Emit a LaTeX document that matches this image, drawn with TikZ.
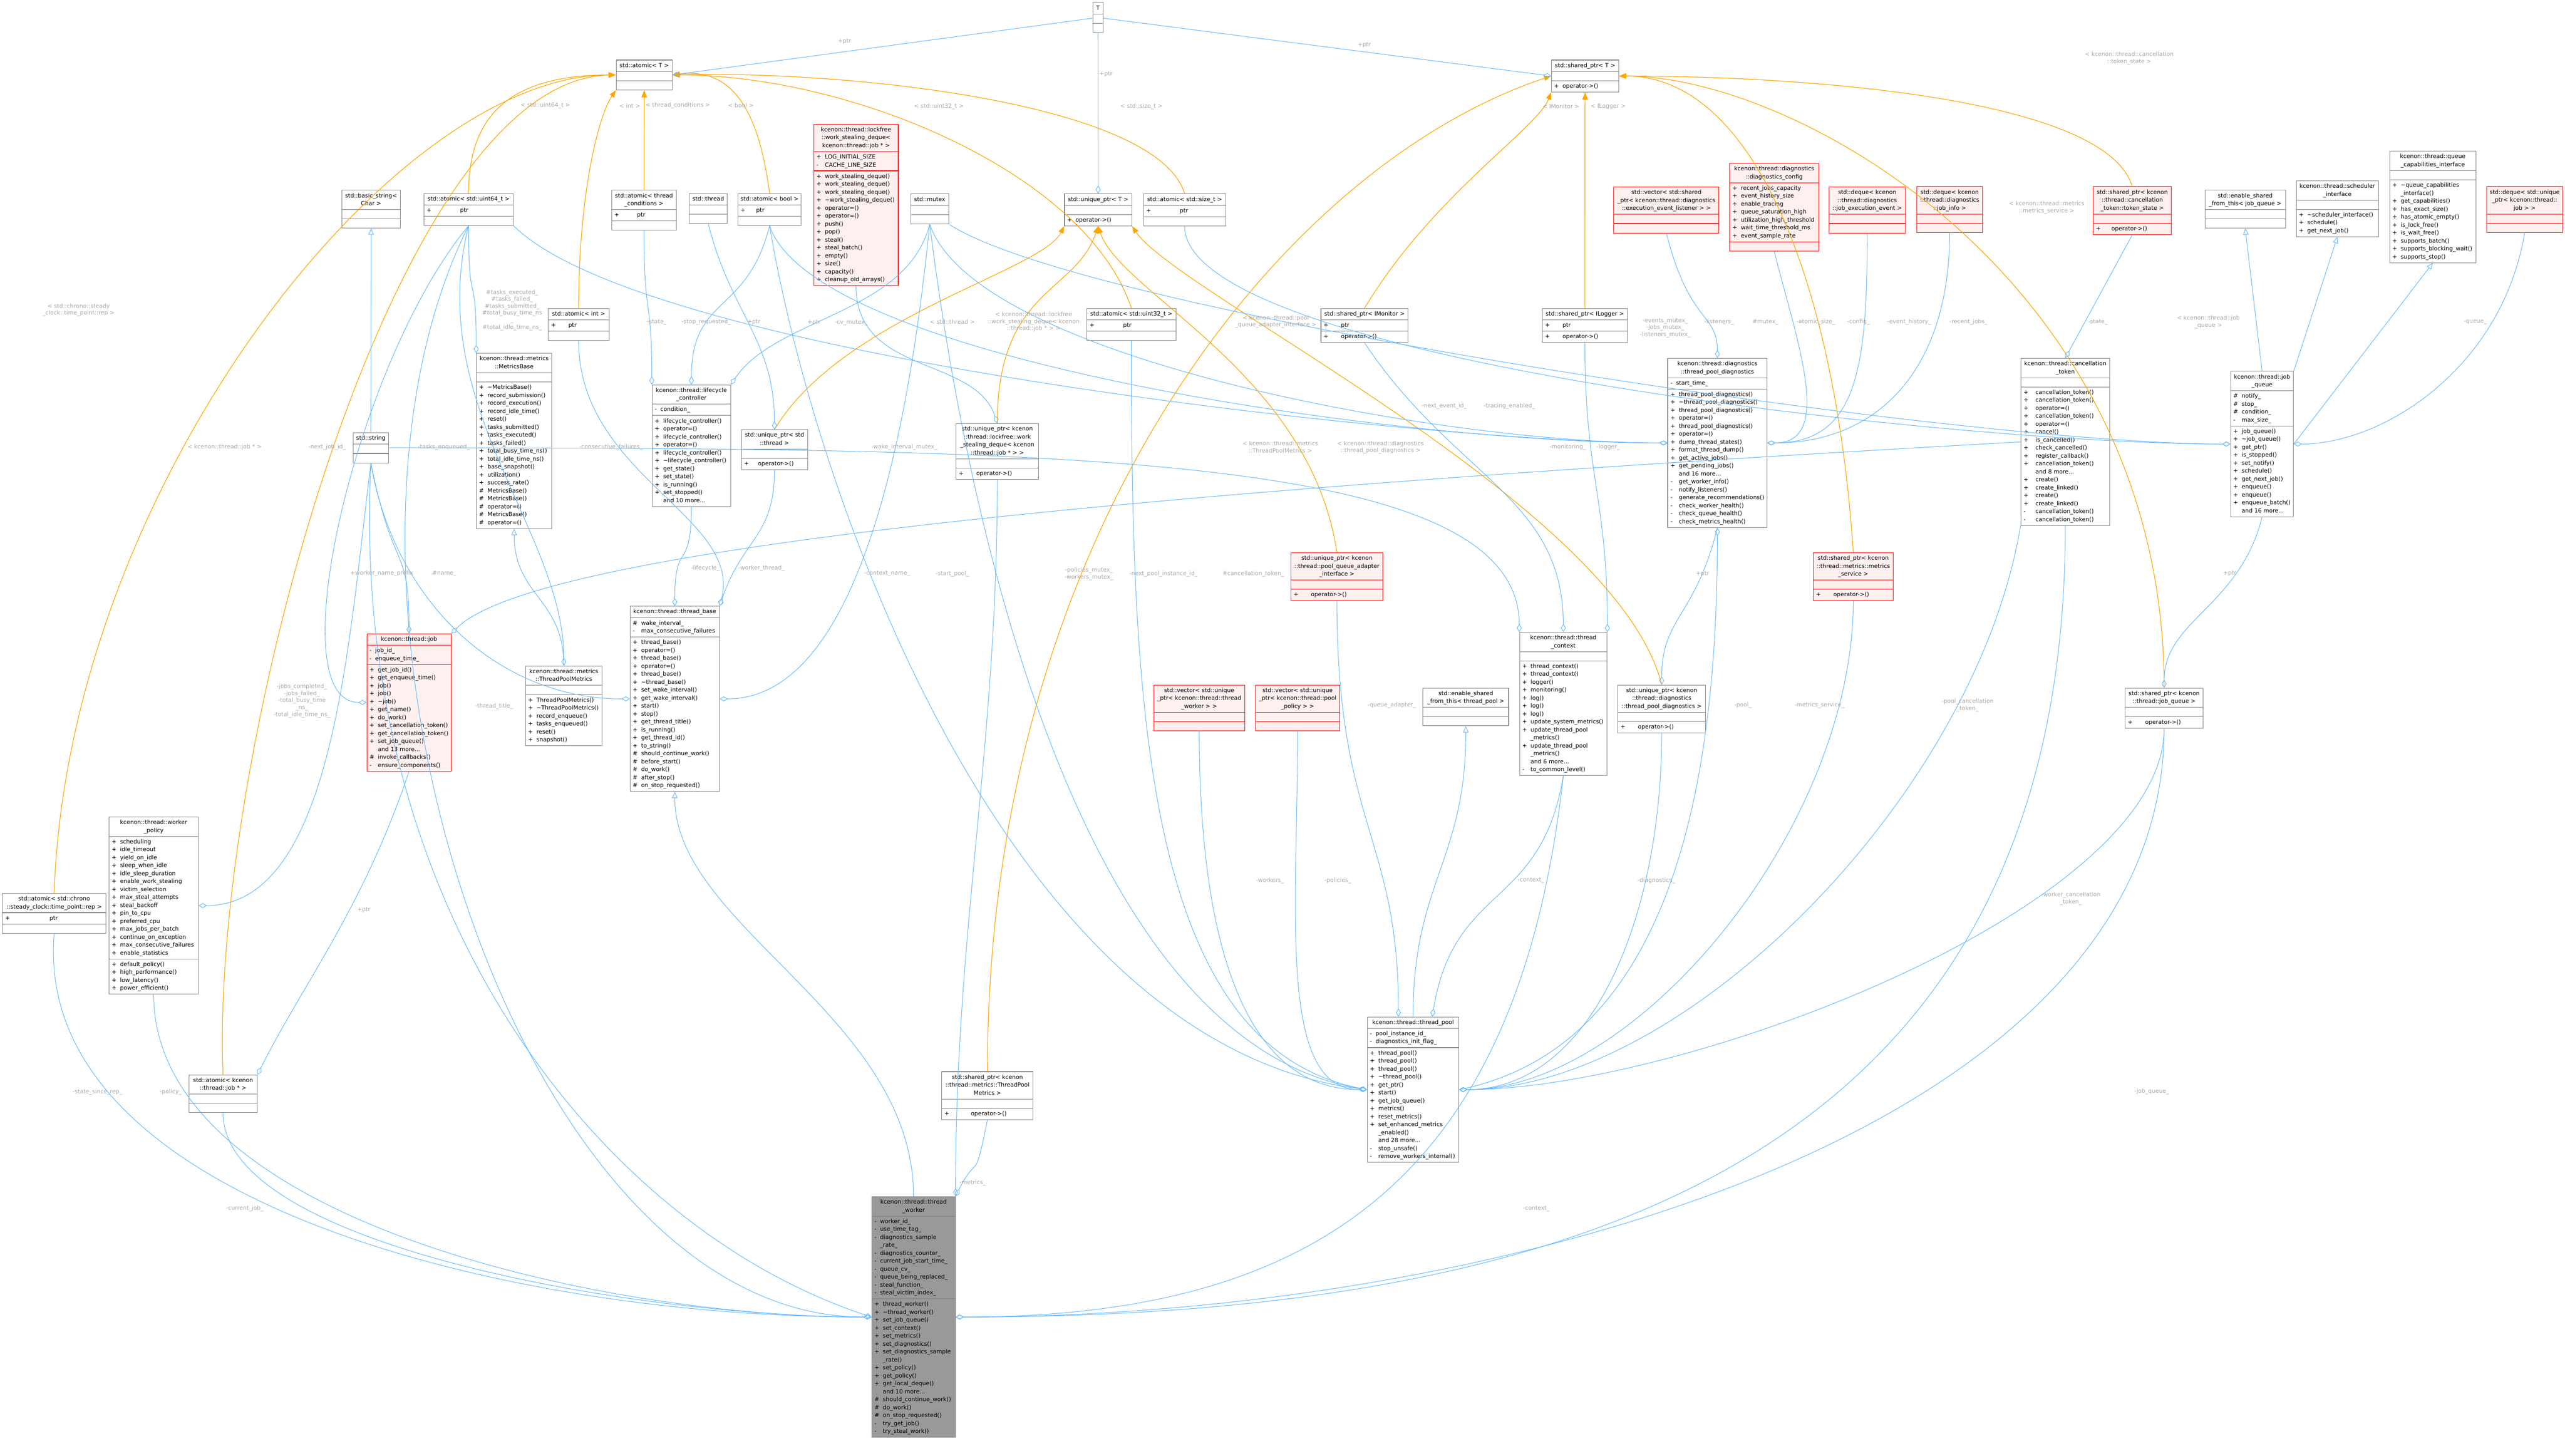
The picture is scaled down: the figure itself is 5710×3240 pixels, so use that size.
\documentclass[tikz,border=0pt]{standalone}
\usepackage{fontspec}
\setmainfont{DejaVu Sans}
\usetikzlibrary{shapes.multipart,arrows.meta}
\definecolor{eblue}{HTML}{63B8FF}
\definecolor{eorange}{HTML}{FFA500}
\definecolor{lblgray}{HTML}{A8A8A8}
\definecolor{nodegray}{HTML}{808080}
\definecolor{redfill}{HTML}{FFF0F0}
\definecolor{curfill}{HTML}{999999}
\newcommand\fnt{\fontsize{6.4}{8.85}\selectfont}
\newcommand\lfnt{\fontsize{6.4}{7.8}\selectfont}
\newcommand\cttl[1]{\begin{tabular}{@{}c@{}}#1\end{tabular}}
\newcommand\cmem[1]{\begin{tabular}{@{}l@{\hspace{4pt}}l@{}}#1\end{tabular}}
\newcommand\tl{\textasciitilde}
\tikzset{
 cls/.style={draw=nodegray, fill=white, line width=0.6pt, rectangle split, rectangle split parts=3,
   rectangle split part align={center,left,left}, rectangle split empty part height=6.5pt,
   inner xsep=3pt, inner ysep=1.6pt, anchor=north west, font=\fnt, minimum width=#1},
 cls/.default=20pt,
 rcls/.style={cls=#1, draw=red, fill=redfill},
 rcls/.default=20pt,
 ccls/.style={cls=#1, fill=curfill},
 agg/.style={draw=eblue, line width=0.6pt, distance=90pt, -{Diamond[open,length=9pt,width=5.5pt]}},
 inh/.style={draw=eblue, line width=0.6pt, distance=60pt, -{Triangle[open,length=7pt,width=6pt]}},
 tmpl/.style={draw=eorange, line width=0.7pt, distance=110pt, -{Triangle[length=8pt,width=6pt]}},
 lbl/.style={font=\lfnt, text=lblgray, align=center, inner sep=0pt},
}
\begin{document}
\begin{tikzpicture}[x=0.5pt,y=-0.5pt]
\useasboundingbox (0,0) rectangle (5710,3240);
% ---------- nodes ----------
\node[cls=11.5pt] (T) at (2432,5) {\cttl{T}\nodepart{two}\nodepart{three}};
\node[cls=62.5pt] (atT) at (1371,133) {\cttl{std::atomic< T >}\nodepart{two}\nodepart{three}};
\node[cls=75pt] (spT) at (3453,133) {\cttl{std::shared\_ptr< T >}\nodepart{two}\nodepart{three}\cmem{+ & operator->()}};
\node[cls=65.5pt] (basicstr) at (760,423) {\cttl{std::basic\_string<\\ Char >}\nodepart{two}\nodepart{three}};
\node[cls=99.5pt] (a64) at (943,430) {\cttl{std::atomic< std::uint64\_t >}\nodepart{two}\cmem{+ & \hspace{28pt}ptr}\nodepart{three}};
\node[cls=72pt] (acond) at (1361,423) {\cttl{std::atomic< thread\\\_conditions >}\nodepart{two}\cmem{+ & \hspace{16pt}ptr}\nodepart{three}};
\node[cls=42pt] (thr) at (1534,430) {\cttl{std::thread}\nodepart{two}\nodepart{three}};
\node[cls=52pt] (abool) at (1642,430) {\cttl{std::atomic< bool >}\nodepart{two}\cmem{+ & \hspace{8pt}ptr}\nodepart{three}};
\node[rcls=94pt] (wsd) at (1811,276) {\cttl{kcenon::thread::lockfree\\::work\_stealing\_deque<\\ kcenon::thread::job * >}\nodepart{two}\cmem{+ & LOG\_INITIAL\_SIZE\\- & CACHE\_LINE\_SIZE}\nodepart{three}\cmem{+ & work\_stealing\_deque()\\+ & work\_stealing\_deque()\\+ & work\_stealing\_deque()\\+ & \tl work\_stealing\_deque()\\+ & operator=()\\+ & operator=()\\+ & push()\\+ & pop()\\+ & steal()\\+ & steal\_batch()\\+ & empty()\\+ & size()\\+ & capacity()\\+ & cleanup\_old\_arrays()}};
\node[cls=42pt] (mutex) at (2027,431) {\cttl{std::mutex}\nodepart{two}\nodepart{three}};
\node[cls=75pt] (uT) at (2369,431) {\cttl{std::unique\_ptr< T >}\nodepart{two}\nodepart{three}\cmem{+ & operator->()}};
\node[cls=91.5pt] (asize) at (2545,431) {\cttl{std::atomic< std::size\_t >}\nodepart{two}\cmem{+ & \hspace{28pt}ptr}\nodepart{three}};
\node[cls=67.5pt] (aint) at (1220,686) {\cttl{std::atomic< int >}\nodepart{two}\cmem{+ & \hspace{10pt}ptr}\nodepart{three}};
\node[cls=99pt] (a32) at (2419,686) {\cttl{std::atomic< std::uint32\_t >}\nodepart{two}\cmem{+ & \hspace{28pt}ptr}\nodepart{three}};
\node[cls=97pt] (spMon) at (2940,686) {\cttl{std::shared\_ptr< IMonitor >}\nodepart{two}\cmem{+ & \hspace{10pt}ptr}\nodepart{three}\cmem{+ & \hspace{10pt}operator->()}};
\node[cls=94.5pt] (spLog) at (3433,686) {\cttl{std::shared\_ptr< ILogger >}\nodepart{two}\cmem{+ & \hspace{10pt}ptr}\nodepart{three}\cmem{+ & \hspace{10pt}operator->()}};
\node[rcls=117pt] (vecL) at (3592,416) {\cttl{std::vector< std::shared\\\_ptr< kcenon::thread::diagnostics\\::execution\_event\_listener > >}\nodepart{two}\nodepart{three}};
\node[rcls=99pt] (cfg) at (3850,363) {\cttl{kcenon::thread::diagnostics\\::diagnostics\_config}\nodepart{two}\cmem{+ & recent\_jobs\_capacity\\+ & event\_history\_size\\+ & enable\_tracing\\+ & queue\_saturation\_high\\+ & utilization\_high\_threshold\\+ & wait\_time\_threshold\_ms\\+ & event\_sample\_rate}\nodepart{three}};
\node[rcls=85pt] (dqEv) at (4071,416) {\cttl{std::deque< kcenon\\::thread::diagnostics\\::job\_execution\_event >}\nodepart{two}\nodepart{three}};
\node[rcls=73.5pt] (dqJI) at (4266,415) {\cttl{std::deque< kcenon\\::thread::diagnostics\\::job\_info >}\nodepart{two}\nodepart{three}};
\node[rcls=87pt] (spTS) at (4659,415) {\cttl{std::shared\_ptr< kcenon\\::thread::cancellation\\\_token::token\_state >}\nodepart{two}\nodepart{three}\cmem{+ & \hspace{8pt}operator->()}};
\node[cls=89.5pt] (esfJQ) at (4908,423) {\cttl{std::enable\_shared\\\_from\_this< job\_queue >}\nodepart{two}\nodepart{three}};
\node[cls=91.5pt] (sched) at (5111,402) {\cttl{kcenon::thread::scheduler\\\_interface}\nodepart{two}\nodepart{three}\cmem{+ & \tl scheduler\_interface()\\+ & schedule()\\+ & get\_next\_job()}};
\node[cls=96pt] (qcap) at (5319,336) {\cttl{kcenon::thread::queue\\\_capabilities\_interface}\nodepart{two}\nodepart{three}\cmem{+ & \tl queue\_capabilities\\ & \_interface()\\+ & get\_capabilities()\\+ & has\_exact\_size()\\+ & has\_atomic\_empty()\\+ & is\_lock\_free()\\+ & is\_wait\_free()\\+ & supports\_batch()\\+ & supports\_blocking\_wait()\\+ & supports\_stop()}};
\node[rcls=84.5pt] (dqUJ) at (5535,415) {\cttl{std::deque< std::unique\\\_ptr< kcenon::thread::\\job > >}\nodepart{two}\nodepart{three}};
\node[cls=84pt] (mb) at (1060,786) {\cttl{kcenon::thread::metrics\\::MetricsBase}\nodepart{two}\nodepart{three}\cmem{+ & \tl MetricsBase()\\+ & record\_submission()\\+ & record\_execution()\\+ & record\_idle\_time()\\+ & reset()\\+ & tasks\_submitted()\\+ & tasks\_executed()\\+ & tasks\_failed()\\+ & total\_busy\_time\_ns()\\+ & total\_idle\_time\_ns()\\+ & base\_snapshot()\\+ & utilization()\\+ & success\_rate()\\\# & MetricsBase()\\\# & MetricsBase()\\\# & operator=()\\\# & MetricsBase()\\\# & operator=()}};
\node[cls=87.5pt] (lc) at (1451,856) {\cttl{kcenon::thread::lifecycle\\\_controller}\nodepart{two}\cmem{- & condition\_}\nodepart{three}\cmem{+ & lifecycle\_controller()\\+ & operator=()\\+ & lifecycle\_controller()\\+ & operator=()\\+ & lifecycle\_controller()\\+ & \tl lifecycle\_controller()\\+ & get\_state()\\+ & set\_state()\\+ & is\_running()\\+ & set\_stopped()\\ & and 10 more...}};
\node[cls=39pt] (str) at (786,963) {\cttl{std::string}\nodepart{two}\nodepart{three}};
\node[cls=73.5pt] (uThr) at (1650,956) {\cttl{std::unique\_ptr< std\\::thread >}\nodepart{two}\nodepart{three}\cmem{+ & \hspace{6pt}operator->()}};
\node[cls=91.5pt] (uWSD) at (2128,942) {\cttl{std::unique\_ptr< kcenon\\::thread::lockfree::work\\\_stealing\_deque< kcenon\\::thread::job * > >}\nodepart{two}\nodepart{three}\cmem{+ & \hspace{10pt}operator->()}};
\node[cls=110.5pt] (tpd) at (3712,797) {\cttl{kcenon::thread::diagnostics\\::thread\_pool\_diagnostics}\nodepart{two}\cmem{- & start\_time\_}\nodepart{three}\cmem{+ & thread\_pool\_diagnostics()\\+ & \tl thread\_pool\_diagnostics()\\+ & thread\_pool\_diagnostics()\\+ & operator=()\\+ & thread\_pool\_diagnostics()\\+ & operator=()\\+ & dump\_thread\_states()\\+ & format\_thread\_dump()\\+ & get\_active\_jobs()\\+ & get\_pending\_jobs()\\ & and 16 more...\\- & get\_worker\_info()\\- & notify\_listeners()\\- & generate\_recommendations()\\- & check\_worker\_health()\\- & check\_queue\_health()\\- & check\_metrics\_health()}};
\node[cls=99pt, rectangle split empty part height=1pt] (ct) at (4498,797) {\cttl{kcenon::thread::cancellation\\\_token}\nodepart{two}\nodepart{three}\cmem{+ & \hspace{4pt}cancellation\_token()\\+ & \hspace{4pt}cancellation\_token()\\+ & \hspace{4pt}operator=()\\+ & \hspace{4pt}cancellation\_token()\\+ & \hspace{4pt}operator=()\\+ & \hspace{4pt}cancel()\\+ & \hspace{4pt}is\_cancelled()\\+ & \hspace{4pt}check\_cancelled()\\+ & \hspace{4pt}register\_callback()\\+ & \hspace{4pt}cancellation\_token()\\ & \hspace{4pt}and 8 more...\\+ & \hspace{4pt}create()\\+ & \hspace{4pt}create\_linked()\\+ & \hspace{4pt}create()\\+ & \hspace{4pt}create\_linked()\\- & \hspace{4pt}cancellation\_token()\\- & \hspace{4pt}cancellation\_token()}};
\node[cls=70pt] (jq) at (4965,826) {\cttl{kcenon::thread::job\\\_queue}\nodepart{two}\cmem{\# & notify\_\\\# & stop\_\\\# & condition\_\\- & max\_size\_}\nodepart{three}\cmem{+ & job\_queue()\\+ & \tl job\_queue()\\+ & get\_ptr()\\+ & is\_stopped()\\+ & set\_notify()\\+ & schedule()\\+ & get\_next\_job()\\+ & enqueue()\\+ & enqueue()\\+ & enqueue\_batch()\\ & and 16 more...}};
\node[rcls=102.5pt] (uQA) at (2873,1230) {\cttl{std::unique\_ptr< kcenon\\::thread::pool\_queue\_adapter\\\_interface >}\nodepart{two}\nodepart{three}\cmem{+ & \hspace{10pt}operator->()}};
\node[rcls=89pt] (spMS) at (4036,1230) {\cttl{std::shared\_ptr< kcenon\\::thread::metrics::metrics\\\_service >}\nodepart{two}\nodepart{three}\cmem{+ & \hspace{10pt}operator->()}};
\node[cls=99.5pt] (tb) at (1402,1349) {\cttl{kcenon::thread::thread\_base}\nodepart{two}\cmem{\# & wake\_interval\_\\- & max\_consecutive\_failures}\nodepart{three}\cmem{+ & thread\_base()\\+ & operator=()\\+ & thread\_base()\\+ & operator=()\\+ & thread\_base()\\+ & \tl thread\_base()\\+ & set\_wake\_interval()\\+ & get\_wake\_interval()\\+ & start()\\+ & stop()\\+ & get\_thread\_title()\\+ & is\_running()\\+ & get\_thread\_id()\\+ & to\_string()\\\# & should\_continue\_work()\\\# & before\_start()\\\# & do\_work()\\\# & after\_stop()\\\# & on\_stop\_requested()}};
\node[rcls=92pt] (job) at (816,1410) {\cttl{kcenon::thread::job}\nodepart{two}\cmem{- & job\_id\_\\- & enqueue\_time\_}\nodepart{three}\cmem{+ & get\_job\_id()\\+ & get\_enqueue\_time()\\+ & job()\\+ & job()\\+ & \tl job()\\+ & get\_name()\\+ & do\_work()\\+ & set\_cancellation\_token()\\+ & get\_cancellation\_token()\\+ & set\_job\_queue()\\ & and 13 more...\\\# & invoke\_callbacks()\\- & ensure\_components()}};
\node[cls=85.5pt] (tpm) at (1169,1482) {\cttl{kcenon::thread::metrics\\::ThreadPoolMetrics}\nodepart{two}\nodepart{three}\cmem{+ & ThreadPoolMetrics()\\+ & \tl ThreadPoolMetrics()\\+ & record\_enqueue()\\+ & tasks\_enqueued()\\+ & reset()\\+ & snapshot()}};
\node[cls=97.5pt] (ctx) at (3382,1407) {\cttl{kcenon::thread::thread\\\_context}\nodepart{two}\nodepart{three}\cmem{+ & thread\_context()\\+ & thread\_context()\\+ & logger()\\+ & monitoring()\\+ & log()\\+ & log()\\+ & log()\\+ & update\_system\_metrics()\\+ & update\_thread\_pool\\ & \_metrics()\\+ & update\_thread\_pool\\ & \_metrics()\\ & and 6 more...\\- & to\_common\_level()}};
\node[rcls=101pt] (vecW) at (2568,1524) {\cttl{std::vector< std::unique\\\_ptr< kcenon::thread::thread\\\_worker > >}\nodepart{two}\nodepart{three}};
\node[rcls=94pt] (vecP) at (2794,1524) {\cttl{std::vector< std::unique\\\_ptr< kcenon::thread::pool\\\_policy > >}\nodepart{two}\nodepart{three}};
\node[cls=95.5pt] (esfTP) at (3167,1531) {\cttl{std::enable\_shared\\\_from\_this< thread\_pool >}\nodepart{two}\nodepart{three}};
\node[cls=97.5pt] (uTPD) at (3601,1524) {\cttl{std::unique\_ptr< kcenon\\::thread::diagnostics\\::thread\_pool\_diagnostics >}\nodepart{two}\nodepart{three}\cmem{+ & \hspace{10pt}operator->()}};
\node[cls=87pt] (spJQ) at (4730,1531) {\cttl{std::shared\_ptr< kcenon\\::thread::job\_queue >}\nodepart{two}\nodepart{three}\cmem{+ & \hspace{10pt}operator->()}};
\node[cls=99.5pt] (policy) at (242,1818) {\cttl{kcenon::thread::worker\\\_policy}\nodepart{two}\cmem{+ & scheduling\\+ & idle\_timeout\\+ & yield\_on\_idle\\+ & sleep\_when\_idle\\+ & idle\_sleep\_duration\\+ & enable\_work\_stealing\\+ & victim\_selection\\+ & max\_steal\_attempts\\+ & steal\_backoff\\+ & pin\_to\_cpu\\+ & preferred\_cpu\\+ & max\_jobs\_per\_batch\\+ & continue\_on\_exception\\+ & max\_consecutive\_failures\\+ & enable\_statistics}\nodepart{three}\cmem{+ & default\_policy()\\+ & high\_performance()\\+ & low\_latency()\\+ & power\_efficient()}};
\node[cls=115pt] (achr) at (5,1988) {\cttl{std::atomic< std::chrono\\::steady\_clock::time\_point::rep >}\nodepart{two}\cmem{+ & \hspace{40pt}ptr}\nodepart{three}};
\node[cls=76pt] (ajob) at (420,2392) {\cttl{std::atomic< kcenon\\::thread::job * >}\nodepart{two}\nodepart{three}};
\node[cls=101.5pt] (spTPM) at (2096,2385) {\cttl{std::shared\_ptr< kcenon\\::thread::metrics::ThreadPool\\Metrics >}\nodepart{two}\nodepart{three}\cmem{+ & \hspace{20pt}operator->()}};
\node[cls=102pt] (tp) at (3043,2263) {\cttl{kcenon::thread::thread\_pool}\nodepart{two}\cmem{- & pool\_instance\_id\_\\- & diagnostics\_init\_flag\_}\nodepart{three}\cmem{+ & thread\_pool()\\+ & thread\_pool()\\+ & thread\_pool()\\+ & \tl thread\_pool()\\+ & get\_ptr()\\+ & start()\\+ & get\_job\_queue()\\+ & metrics()\\+ & reset\_metrics()\\+ & set\_enhanced\_metrics\\ & \_enabled()\\ & and 28 more...\\- & stop\_unsafe()\\- & remove\_workers\_internal()}};
\node[ccls=93pt] (tw) at (1940,2663) {\cttl{kcenon::thread::thread\\\_worker}\nodepart{two}\cmem{- & worker\_id\_\\- & use\_time\_tag\_\\- & diagnostics\_sample\\ & \_rate\_\\- & diagnostics\_counter\_\\- & current\_job\_start\_time\_\\- & queue\_cv\_\\- & queue\_being\_replaced\_\\- & steal\_function\_\\- & steal\_victim\_index\_}\nodepart{three}\cmem{+ & thread\_worker()\\+ & \tl thread\_worker()\\+ & set\_job\_queue()\\+ & set\_context()\\+ & set\_metrics()\\+ & set\_diagnostics()\\+ & set\_diagnostics\_sample\\ & \_rate()\\+ & set\_policy()\\+ & get\_policy()\\+ & get\_local\_deque()\\ & and 10 more...\\\# & should\_continue\_work()\\\# & do\_work()\\\# & on\_stop\_requested()\\- & try\_get\_job()\\- & try\_steal\_work()}};
% ---------- template instantiation ----------
\draw[tmpl] (a64.north) .. controls +(0,-160) and +(-250,0) .. (atT.west);
\draw[tmpl] (aint.north) .. controls +(0,-250) and +(-40,60) .. (atT.south west);
\draw[tmpl] (acond.north) -- (atT.south);
\draw[tmpl] (abool.north) .. controls +(-20,-150) and +(150,-20) .. (atT.east);
\draw[tmpl] (achr.north) .. controls +(30,-900) and +(-500,0) .. (atT.west);
\draw[tmpl] (ajob.north) .. controls +(-30,-700) and +(-500,10) .. (atT.west);
\draw[tmpl] (asize.north) .. controls +(-60,-200) and +(400,-10) .. (atT.east);
\draw[tmpl] (a32.north) .. controls +(-100,-300) and +(400,0) .. (atT.east);
\draw[tmpl] (spMon.north) .. controls +(150,-250) and +(-30,80) .. (spT.south west);
\draw[tmpl] (spLog.north) -- (spT.south);
\draw[tmpl] (spTPM.north) .. controls +(0,-1200) and +(-600,200) .. (spT.west);
\draw[tmpl] (spMS.north) .. controls +(-40,-600) and +(300,0) .. (spT.east);
\draw[tmpl] (spTS.north) .. controls +(-60,-200) and +(400,0) .. (spT.east);
\draw[tmpl] (spJQ.north) .. controls +(0,-900) and +(400,0) .. (spT.east);
\draw[tmpl] (uThr.north) .. controls +(150,-250) and +(-50,100) .. (uT.south west);
\draw[tmpl] (uWSD.north) .. controls +(0,-300) and +(-50,150) .. (uT.south);
\draw[tmpl] (uQA.north) .. controls +(-60,-400) and +(50,150) .. (uT.south);
\draw[tmpl] (uTPD.north) .. controls +(-100,-400) and +(100,150) .. (uT.south east);
% ---------- T pointers ----------
\draw[agg] (T) -- (atT.east);
\draw[agg] (T) -- (spT.west);
\draw[agg] (T) -- (uT.north);
% ---------- inheritance ----------
\draw[inh] (str.north) -- (basicstr.south);
\draw[inh] (tpm.north) .. controls +(0,-150) and +(0,150) .. (mb.south);
\draw[inh] (tw.north) .. controls +(0,-400) and +(0,300) .. (tb.south);
\draw[inh] (tp.north) .. controls +(0,-300) and +(0,300) .. (esfTP.south);
\draw[inh] (jq.north) -- (esfJQ.south);
\draw[inh] (jq.north east) -- (sched.south);
\draw[inh] (jq.east) -- (qcap.south);
% ---------- aggregation ----------
\draw[agg] (a64.south) .. controls +(0,200) and +(0,-200) .. (mb.north west);
\draw[agg] (a64.south) .. controls +(-100,400) and +(0,-300) .. (tpm.north);
\draw[agg] (a64.south) .. controls +(-250,300) and +(-200,0) .. (job.west);
\draw[agg] (a64.south) .. controls +(-400,800) and +(-800,0) .. (tw.west);
\draw[agg] (a64.south east) .. controls +(300,300) and +(-500,0) .. (tpd.west);
\draw[agg] (aint.south) .. controls +(0,300) and +(50,-200) .. (tb.north east);
\draw[agg] (acond.south) .. controls +(0,200) and +(0,-200) .. (lc.north west);
\draw[agg] (abool.south) .. controls +(-50,200) and +(0,-200) .. (lc.north);
\draw[agg] (abool.south) .. controls +(100,300) and +(-600,0) .. (tpd.west);
\draw[agg] (abool.south) .. controls +(100,600) and +(-800,-100) .. (tp.west);
\draw[agg] (thr.south) .. controls +(50,200) and +(0,-200) .. (uThr.north);
\draw[agg] (mutex.south) .. controls +(-50,200) and +(100,-150) .. (lc.north east);
\draw[agg] (mutex.south) .. controls +(-50,500) and +(300,0) .. (tb.east);
\draw[agg] (mutex.south) .. controls +(100,300) and +(-500,0) .. (tpd.west);
\draw[agg] (mutex.south) .. controls +(100,800) and +(-600,-100) .. (tp.west);
\draw[agg] (mutex.south east) .. controls +(300,200) and +(-600,0) .. (jq.west);
\draw[agg] (asize.south) .. controls +(0,300) and +(-600,0) .. (jq.west);
\draw[agg] (wsd.south) .. controls +(0,200) and +(-50,-150) .. (uWSD.north);
\draw[agg] (uWSD.south) .. controls +(0,600) and +(0,-600) .. (tw.north east);
\draw[agg] (uThr.south) .. controls +(0,150) and +(50,-150) .. (tb.north east);
\draw[agg] (lc.south) .. controls +(0,150) and +(0,-150) .. (tb.north);
\draw[agg] (str.south) .. controls +(50,300) and +(-300,0) .. (tb.west);
\draw[agg] (str.south) .. controls +(50,250) and +(0,-200) .. (job.north);
\draw[agg] (str.south) .. controls +(-50,400) and +(300,0) .. (policy.east);
\draw[agg] (str.south) .. controls +(-50,1000) and +(-600,-200) .. (tw.west);
\draw[agg] (str.east) .. controls +(1500,0) and +(0,-400) .. (ctx.north west);
\draw[agg] (a32.south) .. controls +(0,800) and +(-500,-100) .. (tp.west);
\draw[agg] (spMon.south) .. controls +(200,300) and +(0,-300) .. (ctx.north);
\draw[agg] (spLog.south) .. controls +(0,300) and +(0,-300) .. (ctx.north east);
\draw[agg] (vecL.south) .. controls +(50,200) and +(0,-100) .. (tpd.north);
\draw[agg] (cfg.south) .. controls +(50,200) and +(150,0) .. (tpd.east);
\draw[agg] (dqEv.south) .. controls +(0,300) and +(200,0) .. (tpd.east);
\draw[agg] (dqJI.south) .. controls +(0,300) and +(250,0) .. (tpd.east);
\draw[agg] (spTS.south) -- (ct.north);
\draw[agg] (dqUJ.south) .. controls +(-50,300) and +(200,0) .. (jq.east);
\draw[agg] (jq.south) .. controls +(-50,200) and +(0,-150) .. (spJQ.north);
\draw[agg] (tpd.south) .. controls +(-50,200) and +(0,-150) .. (uTPD.north);
\draw[agg] (tp.east) .. controls +(500,-100) and +(0,500) .. (tpd.south);
\draw[agg] (uQA.south) .. controls +(0,500) and +(0,-400) .. ([xshift=35pt]tp.north west);
\draw[agg] (vecW.south) .. controls +(0,400) and +(-300,0) .. (tp.west);
\draw[agg] (vecP.south) .. controls +(0,400) and +(-200,0) .. (tp.west);
\draw[agg] (ctx.south) .. controls +(-50,300) and +(50,-300) .. ([xshift=-30pt]tp.north east);
\draw[agg] (uTPD.south) .. controls +(0,400) and +(300,0) .. (tp.east);
\draw[agg] (spMS.south) .. controls +(0,500) and +(400,0) .. (tp.east);
\draw[agg] (ct.south west) .. controls +(-100,600) and +(500,0) .. (tp.east);
\draw[agg] (spJQ.south) .. controls +(0,400) and +(500,0) .. (tp.east);
\draw[agg] (ct.west) .. controls +(-1800,100) and +(200,-200) .. (job.north east);
\draw[agg] (job.south) .. controls +(-100,300) and +(100,-200) .. (ajob.north east);
\draw[agg] (achr.south) .. controls +(-50,600) and +(-800,0) .. (tw.west);
\draw[agg] (policy.south) .. controls +(0,500) and +(-600,0) .. (tw.west);
\draw[agg] (ajob.south) .. controls +(0,300) and +(-500,0) .. (tw.west);
\draw[agg] (spTPM.south) .. controls +(-30,150) and +(50,-100) .. (tw.north east);
\draw[agg] (ctx.south) .. controls +(-100,900) and +(800,0) .. (tw.east);
\draw[agg] (spJQ.south) .. controls +(0,900) and +(1200,0) .. (tw.east);
\draw[agg] (ct.south) .. controls +(0,1400) and +(1400,0) .. (tw.east);
% ---------- labels ----------
\node[lbl] (l1) at (1214,235) {< std::uint64\_t >};
\node[lbl] (l2) at (1402,235) {< int >};
\node[lbl] (l3) at (1509,235) {< thread\_conditions >};
\node[lbl] (l4) at (1649,235) {< bool >};
\node[lbl] (l5) at (2541,237) {< std::size\_t >};
\node[lbl] (l6) at (2090,237) {< std::uint32\_t >};
\node[lbl] (l7) at (3475,237) {< IMonitor >};
\node[lbl] (l8) at (3580,237) {< ILogger >};
\node[lbl] (l9) at (175,690) {< std::chrono::steady\\\_clock::time\_point::rep >};
\node[lbl] (l10) at (500,995) {< kcenon::thread::job * >};
\node[lbl] (l11) at (2120,716) {< std::thread >};
\node[lbl] (l12) at (2301,716) {< kcenon::thread::lockfree\\::work\_stealing\_deque< kcenon\\::thread::job * > >};
\node[lbl] (l13) at (2840,716) {< kcenon::thread::pool\\\_queue\_adapter\_interface >};
\node[lbl] (l14) at (2850,995) {< kcenon::thread::metrics\\::ThreadPoolMetrics >};
\node[lbl] (l15) at (3073,996) {< kcenon::thread::diagnostics\\::thread\_pool\_diagnostics >};
\node[lbl] (l16) at (4556,462) {< kcenon::thread::metrics\\::metrics\_service >};
\node[lbl] (l17) at (4740,130) {< kcenon::thread::cancellation\\::token\_state >};
\node[lbl] (l18) at (4916,717) {< kcenon::thread::job\\\_queue >};
\node[lbl] (l19) at (1880,92) {+ptr};
\node[lbl] (l20) at (3037,100) {+ptr};
\node[lbl] (l21) at (2462,165) {+ptr};
\node[lbl] (l22) at (1140,690) {\#tasks\_executed\_\\\#tasks\_failed\_\\\#tasks\_submitted\_\\\#total\_busy\_time\_ns\\\_\\\#total\_idle\_time\_ns\_};
\node[lbl] (l23) at (988,995) {-tasks\_enqueued\_};
\node[lbl] (l23b) at (728,995) {-next\_job\_id\_};
\node[lbl] (l24) at (1360,995) {-consecutive\_failures\_};
\node[lbl] (l25) at (1462,717) {-state\_};
\node[lbl] (l26) at (1572,717) {-stop\_requested\_};
\node[lbl] (l27) at (1678,717) {+ptr};
\node[lbl] (l28) at (1812,718) {+ptr};
\node[lbl] (l29) at (1895,718) {-cv\_mutex\_};
\node[lbl] (l30) at (2013,995) {-wake\_interval\_mutex\_};
\node[lbl] (l31) at (1975,1277) {-context\_name\_};
\node[lbl] (l32) at (2120,1277) {-start\_pool\_};
\node[lbl] (l33) at (2424,1277) {-policies\_mutex\_\\-workers\_mutex\_};
\node[lbl] (l34) at (2590,1277) {-next\_pool\_instance\_id\_};
\node[lbl] (l35) at (2790,1277) {\#cancellation\_token\_};
\node[lbl] (l36) at (3215,904) {-next\_event\_id\_};
\node[lbl] (l37) at (3360,904) {-tracing\_enabled\_};
\node[lbl] (l38) at (3707,730) {-events\_mutex\_\\-jobs\_mutex\_\\-listeners\_mutex\_};
\node[lbl] (l39) at (3827,717) {-listeners\_};
\node[lbl] (l40) at (3930,717) {\#mutex\_};
\node[lbl] (l41) at (4042,717) {-atomic\_size\_};
\node[lbl] (l42) at (4137,717) {-config\_};
\node[lbl] (l43) at (4250,717) {-event\_history\_};
\node[lbl] (l44) at (4382,717) {-recent\_jobs\_};
\node[lbl] (l45) at (4670,717) {-state\_};
\node[lbl] (l46) at (5510,717) {-queue\_};
\node[lbl] (l47) at (4964,1276) {+ptr};
\node[lbl] (l48) at (3490,995) {-monitoring\_};
\node[lbl] (l49) at (3580,995) {-logger\_};
\node[lbl] (l50) at (3790,1277) {+ptr};
\node[lbl] (l51) at (3880,1570) {-pool\_};
\node[lbl] (l52) at (3098,1570) {-queue\_adapter\_};
\node[lbl] (l53) at (2827,1960) {-workers\_};
\node[lbl] (l54) at (2978,1960) {-policies\_};
\node[lbl] (l55) at (3408,1960) {-context\_};
\node[lbl] (l56) at (3687,1960) {-diagnostics\_};
\node[lbl] (l57) at (4050,1570) {-metrics\_service\_};
\node[lbl] (l58) at (4380,1570) {-pool\_cancellation\\\_token\_};
\node[lbl] (l59) at (4610,2000) {-worker\_cancellation\\\_token\_};
\node[lbl] (l60) at (4790,2430) {-job\_queue\_};
\node[lbl] (l61) at (217,2431) {-state\_since\_rep\_};
\node[lbl] (l62) at (380,2431) {-policy\_};
\node[lbl] (l63) at (545,2690) {-current\_job\_};
\node[lbl] (l64) at (2165,2633) {-metrics\_};
\node[lbl] (l65) at (3420,2690) {-context\_};
\node[lbl] (l66) at (810,2026) {+ptr};
\node[lbl] (l67) at (672,1560) {-jobs\_completed\_\\-jobs\_failed\_\\-total\_busy\_time\\\_ns\_\\-total\_idle\_time\_ns\_};
\node[lbl] (l68) at (1100,1572) {-thread\_title\_};
\node[lbl] (l69) at (850,1276) {+worker\_name\_prefix};
\node[lbl] (l69b) at (989,1276) {\#name\_};
\node[lbl] (l70) at (1570,1265) {-lifecycle\_};
\node[lbl] (l71) at (1695,1265) {-worker\_thread\_};
\end{tikzpicture}
\end{document}
